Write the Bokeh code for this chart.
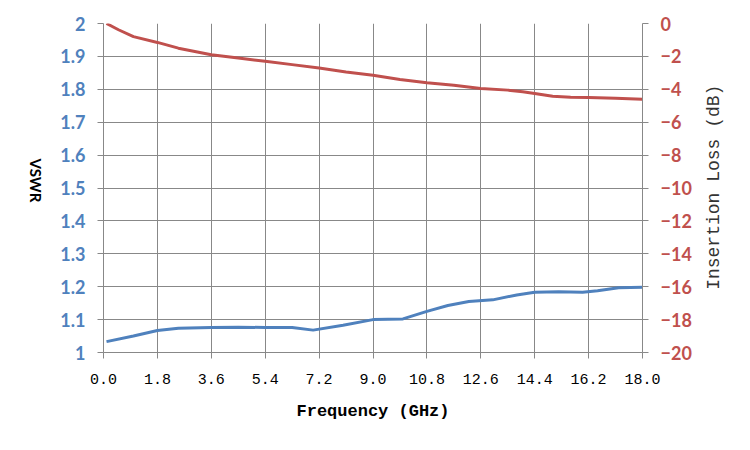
import math
from bokeh.plotting import figure
from bokeh.layouts import row
from bokeh.models import Range1d, LinearAxis, FixedTicker, NumeralTickFormatter
from bokeh.core.properties import value
from bokeh.embed import file_html
from bokeh.resources import INLINE

# Data
freq_vswr = [0.1, 1.0, 1.8, 2.5, 3.6, 4.5, 5.4, 6.3, 7.0, 8.0, 9.0, 10.0, 10.8,
             11.5, 12.2, 13.0, 13.8, 14.4, 15.2, 16.0, 16.5, 17.2, 18.0]
vswr = [1.033, 1.050, 1.067, 1.074, 1.076, 1.077, 1.076, 1.076, 1.068, 1.083,
        1.100, 1.102, 1.125, 1.143, 1.155, 1.160, 1.175, 1.183, 1.185, 1.183,
        1.188, 1.197, 1.198]
freq_il = [0.1, 0.5, 1.0, 1.8, 2.5, 3.6, 4.5, 5.4, 6.3, 7.2, 8.1, 9.0, 9.9, 10.8,
           11.7, 12.6, 13.5, 14.0, 14.4, 15.0, 15.6, 16.2, 17.1, 18.0]
insertion_loss = [0.0, -0.38, -0.8, -1.15, -1.5, -1.9, -2.1, -2.3, -2.5, -2.7,
                  -2.95, -3.15, -3.4, -3.6, -3.75, -3.95, -4.05, -4.15, -4.25,
                  -4.42, -4.48, -4.5, -4.55, -4.6]
x_ticks = [0.0, 1.8, 3.6, 5.4, 7.2, 9.0, 10.8, 12.6, 14.4, 16.2, 18.0]
vswr_ticks = [1.0, 1.1, 1.2, 1.3, 1.4, 1.5, 1.6, 1.7, 1.8, 1.9, 2.0]
il_ticks = [-20, -18, -16, -14, -12, -10, -8, -6, -4, -2, 0]
x_title = "Frequency (GHz)"
left_title = "VSWR"
right_title = "Insertion Loss (dB)"

BLUE = "#4F81BD"
RED = "#C0504D"
GRID = "#888888"
H = 434
LW, RW = 50, 40
MW = 734 - LW - RW

p = figure(width=MW, height=H, output_backend="svg", toolbar_location=None,
           x_range=Range1d(0, 18), y_range=Range1d(1, 2),
           min_border_left=103 - LW, min_border_right=MW + LW - 644,
           min_border_top=23, min_border_bottom=H - 352)
p.extra_y_ranges = {"il": Range1d(-20, 0)}
p.outline_line_color = None

p.line(freq_vswr, vswr, line_color=BLUE, line_width=3)
p.line(freq_il, insertion_loss, line_color=RED, line_width=3, y_range_name="il")

# x axis
xa = p.xaxis[0]
xa.ticker = FixedTicker(ticks=x_ticks)
xa.formatter = NumeralTickFormatter(format="0.0")
xa.axis_label = x_title
xa.axis_label_text_font = "Liberation Mono"
xa.axis_label_text_font_style = "bold"
xa.axis_label_text_font_size = "17px"
xa.axis_label_text_color = "black"
xa.axis_label_standoff = 15
xa.major_label_text_font = "Liberation Mono"
xa.major_label_text_font_size = "15px"
xa.major_label_text_color = "black"
xa.major_label_standoff = 15
xa.minor_tick_line_color = None
xa.major_tick_out = 6
xa.major_tick_in = 0
xa.major_tick_line_color = GRID
xa.axis_line_color = GRID

# left axis
ya = p.yaxis[0]
ya.ticker = FixedTicker(ticks=vswr_ticks)
ya.formatter = NumeralTickFormatter(format="0.[0]")
ya.major_label_text_font = "Lato"
ya.major_label_text_font_style = "bold"
ya.major_label_text_font_size = "18px"
ya.major_label_text_color = BLUE
ya.major_label_standoff = 12
ya.minor_tick_line_color = None
ya.major_tick_out = 6
ya.major_tick_in = 0
ya.major_tick_line_color = GRID
ya.axis_line_color = GRID

# right axis
ra = LinearAxis(y_range_name="il", ticker=FixedTicker(ticks=il_ticks))
ra.major_label_text_font = "Lato"
ra.major_label_text_font_style = "bold"
ra.major_label_text_font_size = "18px"
ra.major_label_text_color = RED
ra.major_label_standoff = 12
ra.minor_tick_line_color = None
ra.major_tick_out = 6
ra.major_tick_in = 0
ra.major_tick_line_color = GRID
ra.axis_line_color = GRID
p.add_layout(ra, "right")

p.xgrid.ticker = FixedTicker(ticks=x_ticks)
p.ygrid.ticker = FixedTicker(ticks=vswr_ticks)
p.xgrid.grid_line_color = GRID
p.ygrid.grid_line_color = GRID

# side panels holding the rotated axis titles
def side_panel(w, x0):
    f = figure(width=w, height=H, output_backend="svg", toolbar_location=None,
               x_range=Range1d(x0, x0 + w), y_range=Range1d(0, H),
               x_axis_type=None, y_axis_type=None, min_border=0)
    f.outline_line_color = None
    f.grid.visible = False
    return f

lp = side_panel(LW, 0)
lp.text(x=[35], y=[H - 207], text=[left_title], angle=-math.pi / 2,
        text_align="center", text_baseline="middle",
        text_font=value("Lato"), text_font_style="bold",
        text_font_size="15px", text_color="black")

rp = side_panel(RW, LW + MW)
rp.text(x=[713], y=[H - 216], text=[right_title], angle=math.pi / 2,
        text_align="center", text_baseline="middle",
        text_font=value("Liberation Mono"), text_font_style="normal",
        text_font_size="18px", text_color="#333333")

layout = row(lp, p, rp)
open("out.html", "w").write(file_html(layout, INLINE))
